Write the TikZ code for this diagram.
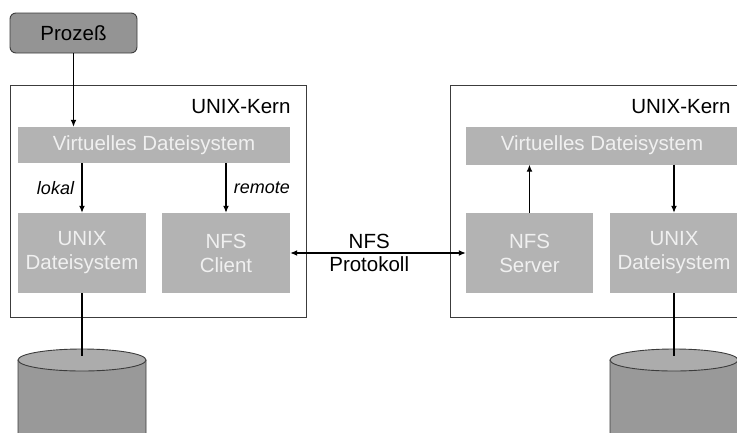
\documentclass[tikz,border=0pt]{standalone}
\usepackage{fontspec}
\setmainfont{Liberation Sans}
\usetikzlibrary{arrows.meta,positioning,calc,shapes.geometric}
\definecolor{layergray}{RGB}{179,179,179}
\definecolor{layertext}{RGB}{240,240,240}
\definecolor{procgray}{RGB}{148,148,148}
\definecolor{framegray}{RGB}{60,60,60}
\definecolor{diskbody}{RGB}{153,153,153}
\definecolor{disktop}{RGB}{172,172,172}

\tikzset{
  layer/.style={fill=layergray, text=layertext, align=center, inner sep=0pt},
  kern/.style={draw=framegray, line width=0.9pt, fill=white, inner sep=0pt},
  arr/.style={-{Latex[length=7pt,width=6pt]}, line width=1.3pt},
  diskline/.style={draw=framegray, line width=0.9pt}
}

\begin{document}
\begin{tikzpicture}[x=1pt,y=-1pt, font=\fontsize{20.5}{24}\selectfont]
  \useasboundingbox (0,0) rectangle (737,432);
  % the two kernels
  \path (158,201) node (kernL) [kern, minimum width=296pt, minimum height=232pt] {};
  \path (598,201) node (kernR) [kern, minimum width=296pt, minimum height=232pt] {};
  \node[anchor=base east] (kernLlbl) at (294,113) {UNIX-Kern};
  \node[anchor=base east] (kernRlbl) at (734,113) {UNIX-Kern};
  % process
  \path (73.5,33) node (proc) [draw=framegray, fill=procgray, rounded corners=6pt,
    line width=0.9pt, minimum width=127pt, minimum height=40pt] {Prozeß};
  % layers, client side
  \path (154,145) node (vdsL) [layer, minimum width=272pt, minimum height=36pt] {Virtuelles Dateisystem};
  \path (82,253) node (udsL) [layer, minimum width=128pt, minimum height=80pt] {UNIX\\Dateisystem};
  \path (226,253) node (nfsC) [layer, minimum width=128pt, minimum height=80pt] {NFS\\Client};
  % layers, server side
  \path (602,145.5) node (vdsR) [layer, minimum width=272pt, minimum height=38pt] {Virtuelles Dateisystem};
  \path (529.5,253) node (nfsS) [layer, minimum width=127pt, minimum height=80pt] {NFS\\Server};
  \path (674,253) node (udsR) [layer, minimum width=128pt, minimum height=80pt] {UNIX\\Dateisystem};
  % disks
  \foreach \cx/\nm in {82/diskL, 674/diskR} {
    \coordinate (\nm) at (\cx,360);
    \draw[diskline, fill=diskbody] ($(\nm)+(-64,0)$) -- ++(0,100)
      arc[start angle=180, end angle=0, x radius=64, y radius=11] -- ++(0,-100);
    \draw[diskline, fill=disktop] (\nm) ellipse[x radius=64, y radius=11];
  }
  % connections
  \draw[arr] (proc.south) -- (proc.south |- vdsL.north);
  \draw[arr] (udsL.north |- vdsL.south) -- node[left=4pt, font=\fontsize{18}{21}\selectfont\itshape] {lokal} (udsL.north);
  \draw[arr] (nfsC.north |- vdsL.south) -- node[right=4pt, font=\fontsize{18}{21}\selectfont\itshape] {remote} (nfsC.north);
  \draw[arr] (nfsS.north) -- (nfsS.north |- vdsR.south);
  \draw[arr] (udsR.north |- vdsR.south) -- (udsR.north);
  \draw[{Latex[length=7pt,width=6pt]}-{Latex[length=7pt,width=6pt]}, line width=1.3pt]
    (nfsC.east) -- node[pos=0.45, above=0pt] {NFS} node[pos=0.45, below=0pt] {Protokoll} (nfsS.west);
  \draw[line width=1.3pt] (udsL.south) -- ($(diskL)+(0,-4)$);
  \draw[line width=1.3pt] (udsR.south) -- ($(diskR)+(0,-4)$);
\end{tikzpicture}
\end{document}
